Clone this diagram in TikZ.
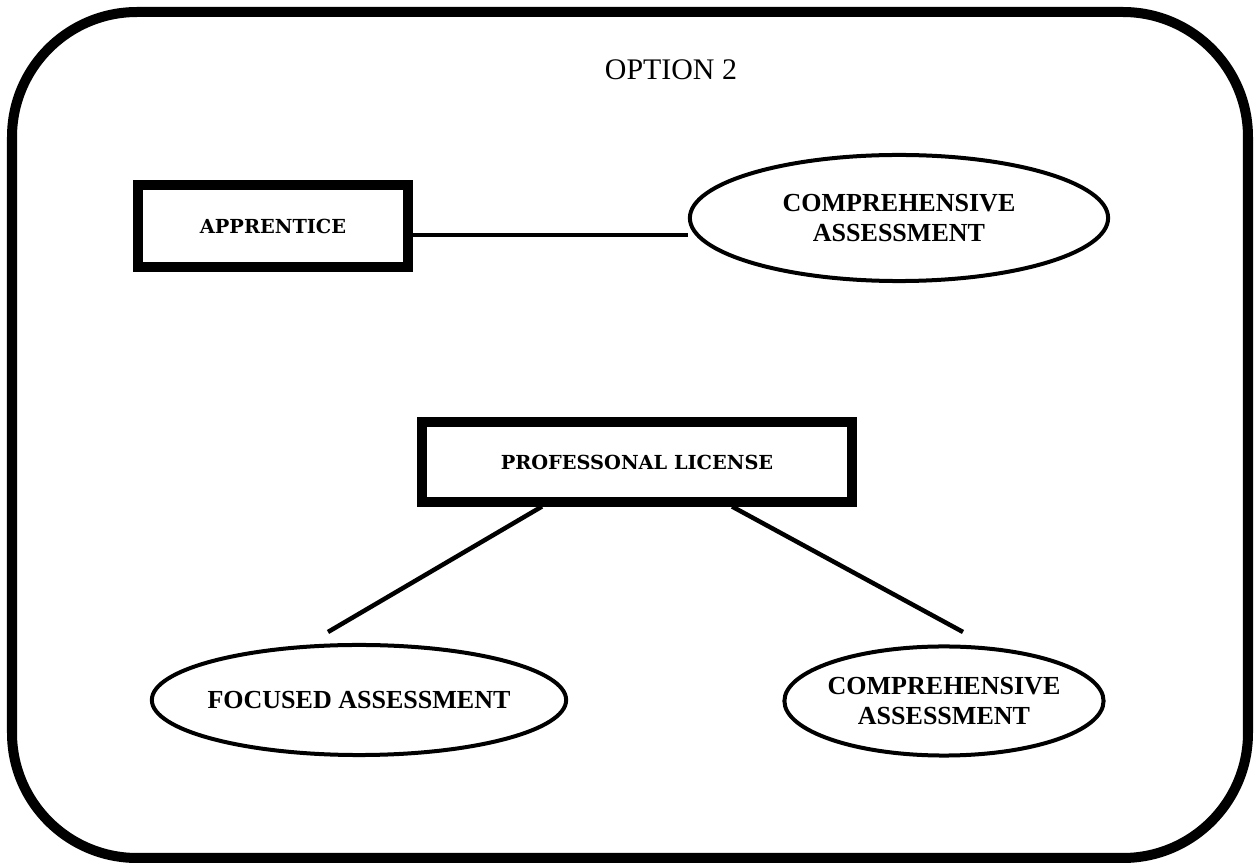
\documentclass[tikz,border=0pt]{standalone}
\usepackage{fontspec}
\setmainfont{Liberation Serif}
\newfontfamily\slabfont{DejaVu Serif}
\usetikzlibrary{shapes.geometric,positioning,calc}

\tikzset{
  boxnode/.style={draw, line width=0.1cm, inner sep=0pt,
    font=\slabfont\bfseries\fontsize{5.5}{6.5}\selectfont},
  ovalnode/.style={draw, ellipse, line width=0.04cm, inner sep=0pt, align=center,
    font=\bfseries\fontsize{7.4}{8.5}\selectfont},
  link/.style={line width=0.045cm}
}

\begin{document}
\begin{tikzpicture}[x=0.01cm,y=-0.01cm]
\useasboundingbox (0,0) rectangle (1259,867);

% frame
\draw[line width=0.1cm,rounded corners=1.25cm] (12,12) rectangle (1248,858);
\node[font=\fontsize{8.5}{10}\selectfont] (title) at (671,70) {OPTION 2};

% apprentice row
\node[boxnode, minimum width=2.7cm, minimum height=0.82cm] (apprentice) at (273,226) {APPRENTICE};
\node[ovalnode, minimum width=4.18cm, minimum height=1.26cm] (compA) at (899,218) {COMPREHENSIVE\\ASSESSMENT};
\draw[link] ([yshift=-0.09cm]apprentice.east) -- ([yshift=-0.09cm]apprentice.east -| compA.west);

% license row
\node[boxnode, minimum width=4.29cm, minimum height=0.79cm] (license) at (637,462) {PROFESSONAL LICENSE};
\node[ovalnode, inner xsep=-0.05cm, minimum width=4.14cm, minimum height=1.10cm] (focused) at (359,700) {FOCUSED ASSESSMENT};
\node[ovalnode, inner xsep=-0.05cm, minimum width=3.19cm, minimum height=1.09cm] (compB) at (944,701) {COMPREHENSIVE\\ASSESSMENT};

\coordinate (leftend) at (328,632);
\coordinate (rightend) at (963,632);
\draw[link] ([xshift=-0.95cm]license.south) -- (leftend);
\draw[link] ([xshift=0.95cm]license.south) -- (rightend);
\end{tikzpicture}
\end{document}
